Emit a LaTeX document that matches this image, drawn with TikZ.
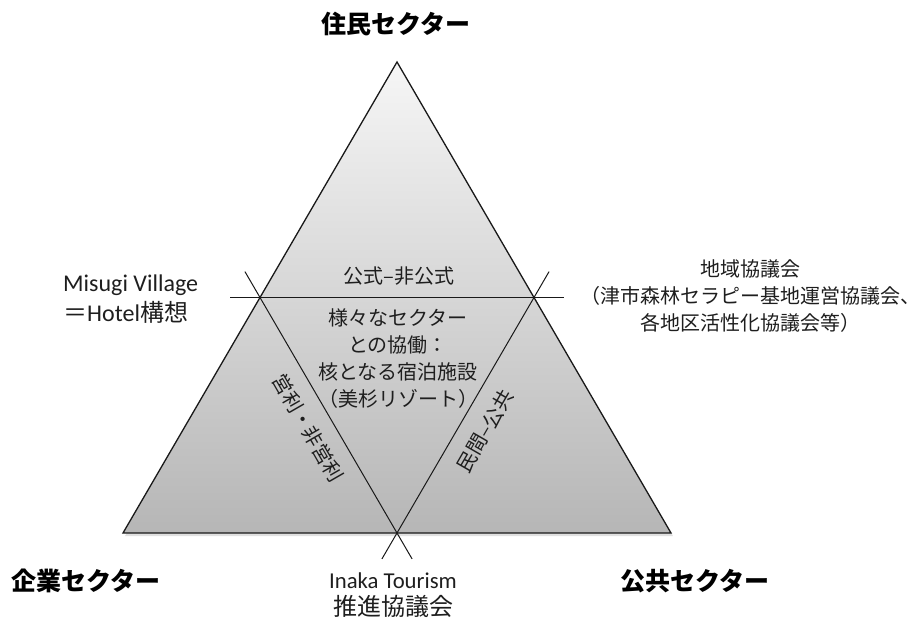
\documentclass[tikz,border=0pt]{standalone}
\usepackage{fontspec}
\setmainfont{Noto Sans CJK JP}
\newfontfamily\lat{Carlito}
\usetikzlibrary{calc}
\definecolor{triTop}{RGB}{246,246,246}
\definecolor{triBot}{RGB}{182,182,182}
\definecolor{edgeC}{RGB}{25,25,25}
\definecolor{txtC}{RGB}{30,30,30}
\begin{document}
\begin{tikzpicture}[x=1pt,y=-1pt,
  lbl/.style={inner sep=0pt, text=txtC, font=\fontsize{20}{27}\selectfont, align=center},
  titlebox/.style={inner sep=0pt, text=black, font=\fontsize{25}{30}\selectfont\bfseries},
  innerline/.style={draw=edgeC, line width=1pt}]
\useasboundingbox (0,0) rectangle (924,623);
\coordinate (A) at (397,62);
\coordinate (BL) at (123,533);
\coordinate (BR) at (671,533);
\coordinate (L) at ($(A)!0.5!(BL)$);
\coordinate (R) at ($(A)!0.5!(BR)$);
\coordinate (B) at ($(BL)!0.5!(BR)$);
% shadow
\fill[black, opacity=0.12] ($(A)+(2,3)$) -- ($(BL)+(2,3)$) -- ($(BR)+(2,3)$) -- cycle;
\shade[top color=triTop, bottom color=triBot, draw=edgeC, line width=1.3pt, line join=miter] (A) -- (BL) -- (BR) -- cycle;
% inner triangle lines extended
\draw[innerline] ($(L)!-30pt!(R)$) -- ($(R)!-30pt!(L)$);
\draw[innerline] ($(L)!-30pt!(B)$) -- ($(B)!-30pt!(L)$);
\draw[innerline] ($(R)!-30pt!(B)$) -- ($(B)!-30pt!(R)$);
% titles
\node[titlebox] (tTop) at (396,24) {住民セクター};
\node[titlebox] (tLeft) at (86,581) {企業セクター};
\node[titlebox] (tRight) at (695,581) {公共セクター};
% labels
\node[lbl] (formal) at (399,276) {公式–非公式};
\node[lbl] (core) at (398,359) {様々なセクター\\との協働：\\核となる宿泊施設\\（美杉リゾート）};
\node[lbl, rotate=-60] (profit) at (308,428) {営利・非営利};
\node[lbl, rotate=60] (pub) at (485,431) {民間–公共};
\node[lbl] (region) at (750,296) {地域協議会\\（津市森林セラピー基地運営協議会、\\各地区活性化協議会等）};
\node[lbl, align=left, anchor=west, font=\fontsize{24}{30}\selectfont] (misugi) at (63,299) {{\lat Misugi Village}\\＝{\lat Hotel}構想};
\node[lbl, font=\fontsize{24}{27}\selectfont] (inaka) at (393,595) {{\lat\fontsize{22.7}{27}\selectfont Inaka Tourism}\\推進協議会};
\end{tikzpicture}
\end{document}
